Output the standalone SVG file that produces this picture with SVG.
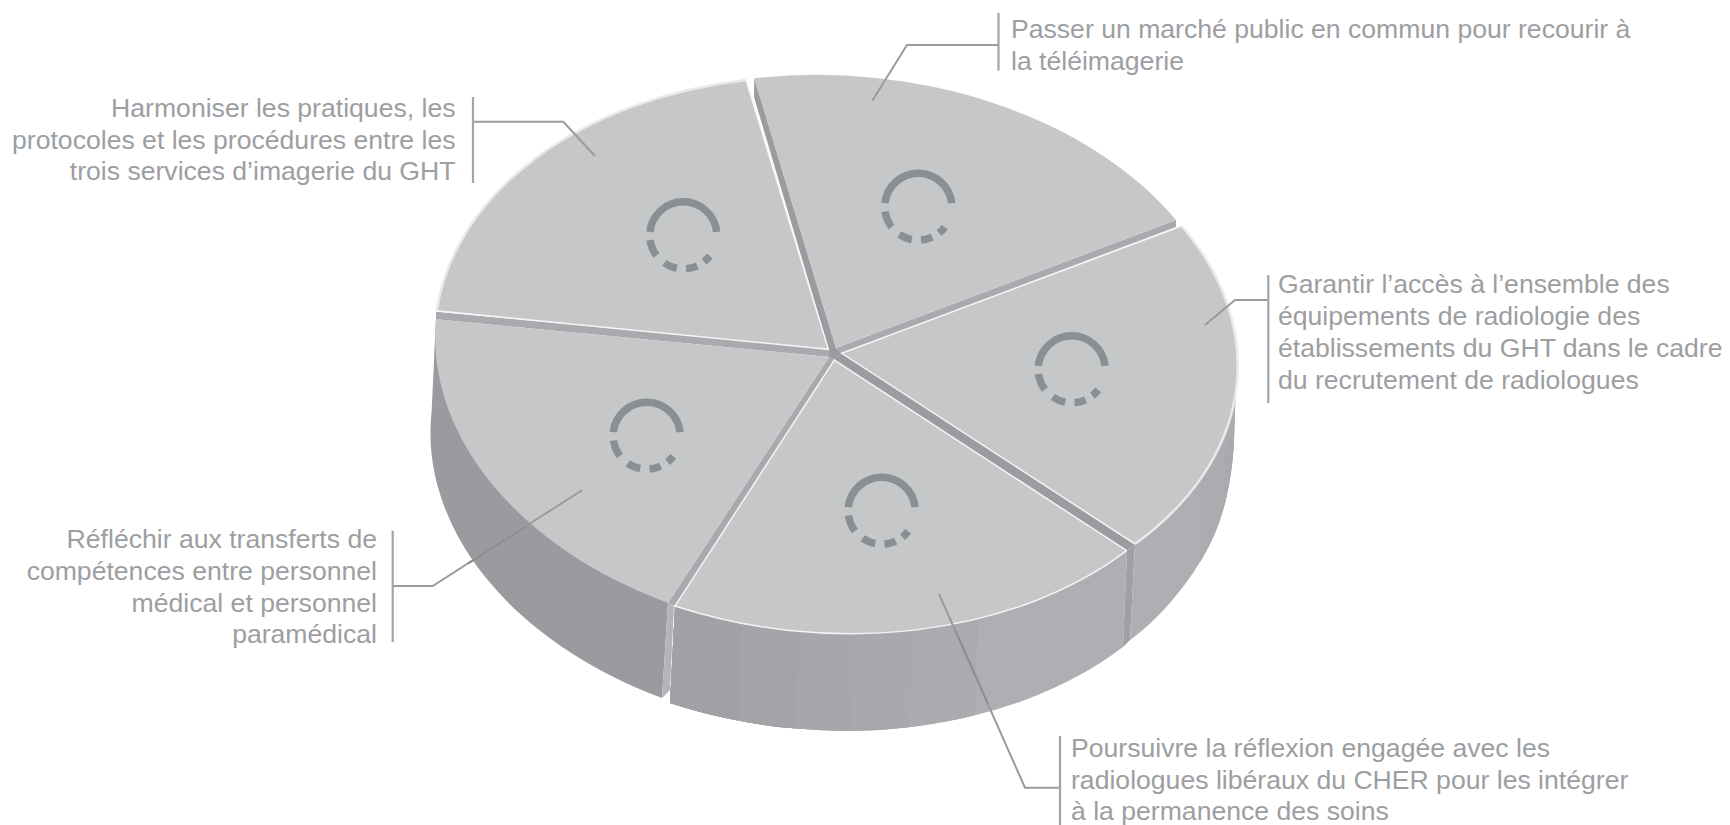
<svg xmlns="http://www.w3.org/2000/svg" width="1730" height="825" viewBox="0 0 1730 825">
<style>
.face{fill:#c6c7c9}
.rim{fill:none;stroke:#eaeaeb;stroke-width:2.5}
.edge{fill:none;stroke:#f4f4f5;stroke-width:1.5}
.b1{fill:#a9aaad}
.b2{fill:#9b9c9f}
.lead{fill:none;stroke:#9a9b9e;stroke-width:2}
.over{fill:none;stroke:#8e8f92;stroke-width:2}
.bar{fill:none;stroke:#a3a4a7;stroke-width:2.2}
.t{font-family:"Liberation Sans",Arial,sans-serif;font-size:26.6px;fill:#9d9ea2}
.e{text-anchor:end}
.ring path{fill:none;stroke:#889093;stroke-width:7.5}
</style>
<defs>
<g id="ring" class="ring">
<path d="M-33.4-3.5A33.6 33.6 0 0 1 33.4-3.5"/>
<path d="M-33.2 4.7A33.6 33.6 0 0 0-26.8 20.2"/>
<path d="M-19 27.7A33.6 33.6 0 0 0-6.5 33"/>
<path d="M2.8 33.4A33.6 33.6 0 0 0 14 30.5"/>
<path d="M20.8 26.4A33.6 33.6 0 0 0 26.5 20.6"/>
</g>
<clipPath id="c4"><path d="M675 606L670 703A402 281 5 0 0 1123 647L1127 551Z"/></clipPath>
<clipPath id="c3"><path d="M1135 544L1130 640C1165 615 1205 565 1220 520C1230 490 1233 460 1234 440L1236 380L1180 440Z"/></clipPath>
</defs>
<g id="sides">
<path fill="#9a9b9e" d="M436 318L431.7 410A402 281 5 0 0 662 698L668 603Z"/>
<path fill="#b4b5b8" d="M668 603L674 606L670 690L662 698Z"/>
<g clip-path="url(#c4)">
<rect x="660" y="540" width="480" height="200" fill="#aeafb2"/>
<path fill="#aaabae" d="M660 540H981L974 740H660Z"/>
<path fill="#a8a9ac" d="M660 540H916L908 740H660Z"/>
<path fill="#a6a7aa" d="M660 540H857L852 740H660Z"/>
<path fill="#a3a4a7" d="M660 540H803L796 740H660Z"/>
<path fill="#a0a1a4" d="M660 540H743L737 740H660Z"/>
</g>
<path fill="#9fa0a3" d="M1127 551L1135 544L1130 640L1123 647Z"/>
<g clip-path="url(#c3)">
<rect x="1125" y="370" width="115" height="280" fill="#aeafb2"/>
<path fill="#abacaf" d="M1202 470L1240 370V650H1198Z"/>
<path fill="#a8a9ac" d="M1226 440H1240V560H1222Z"/>
</g>
</g>
<g id="bands">
<path class="b1" d="M436 311.7L436 319.3L829.3 357L829.3 349.3Z"/>
<path class="b1" d="M829 357L834 360L675 606L668 603Z"/>
<path class="b2" d="M842 353L1135 544L1127 551L834 360Z"/>
<path class="b1" d="M836 348L1176 220L1176 227L842 353Z"/>
<path class="b2" d="M754.3 78L836 348L829.3 351L754 97Z"/>
<path class="b2" d="M836 348L842 353L834 360L829 357L829 349Z"/>
</g>
<g id="slice-harmoniser">
<path class="face" d="M746 80A402 281 5 0 0 436.7 310.7L828.3 349.3Z"/>
<path class="rim" d="M746 80A402 281 5 0 0 436.7 310.7"/>
<path class="edge" d="M746 80L828.3 349.3L436.7 310.7"/>
<use href="#ring" x="683.3" y="235.3"/>
</g>
<g id="slice-passer">
<path class="face" d="M754.3 78.3A402 281 3 0 1 1176 220L836 348Z"/>
<use href="#ring" x="918.3" y="206.7"/>
</g>
<g id="slice-garantir">
<path class="face" d="M1181.7 226A392 268 3 0 1 1135 544L841.7 353.3Z"/>
<path class="rim" d="M1181.7 226A392 268 3 0 1 1135 544"/>
<path class="edge" d="M1181.7 226L841.7 353.3L1135 544"/>
<use href="#ring" x="1071.7" y="369.3"/>
</g>
<g id="slice-poursuivre">
<path class="face" d="M834.3 360L1126.7 550.7A402 281 5 0 1 675 606Z"/>
<path class="edge" d="M1126.7 550.7A402 281 5 0 1 675 606L834.3 360L1126.7 550.7"/>
<use href="#ring" x="881.7" y="510.7"/>
</g>
<g id="slice-reflechir">
<path class="face" d="M436 319.3L829 357L668 603A402 281 5 0 1 436 319.3Z"/>
<use href="#ring" x="646.7" y="435.7"/>
</g>
<g id="connectors">
<path class="lead" d="M595 156L563.3 121.7H473"/>
<path class="lead" d="M872.3 100.7L907 45H998.5"/>
<path class="lead" d="M1205 325L1235 300H1268.3"/>
<path class="lead" d="M582.3 490L432.7 586H392.7"/>
<path class="lead" d="M939 594L1025 787.7H1060"/>
<path class="over" d="M526.7 526L468 563.6M955 629.7L988 704"/>
<path class="bar" d="M473 97V183M998.5 13V70.6M1268.3 275V403M392.7 530.7V642M1060 736V825"/>
</g>
<g id="label-harmoniser" class="t e">
<text x="455.5" y="117.3">Harmoniser les pratiques, les</text>
<text x="455.5" y="148.7">protocoles et les procédures entre les</text>
<text x="455.5" y="180">trois services d’imagerie du GHT</text>
</g>
<g id="label-passer" class="t">
<text x="1011" y="37.7">Passer un marché public en commun pour recourir à</text>
<text x="1011" y="69.5">la téléimagerie</text>
</g>
<g id="label-garantir" class="t">
<text x="1278" y="292.5">Garantir l’accès à l’ensemble des</text>
<text x="1278" y="324.5">équipements de radiologie des</text>
<text x="1278" y="356.7">établissements du GHT dans le cadre</text>
<text x="1278" y="388.7">du recrutement de radiologues</text>
</g>
<g id="label-reflechir" class="t e">
<text x="377" y="547.7">Réfléchir aux transferts de</text>
<text x="377" y="579.5">compétences entre personnel</text>
<text x="377" y="611.5">médical et personnel</text>
<text x="377" y="643">paramédical</text>
</g>
<g id="label-poursuivre" class="t">
<text x="1071" y="756.7">Poursuivre la réflexion engagée avec les</text>
<text x="1071" y="788.5">radiologues libéraux du CHER pour les intégrer</text>
<text x="1071" y="820">à la permanence des soins</text>
</g>
</svg>
